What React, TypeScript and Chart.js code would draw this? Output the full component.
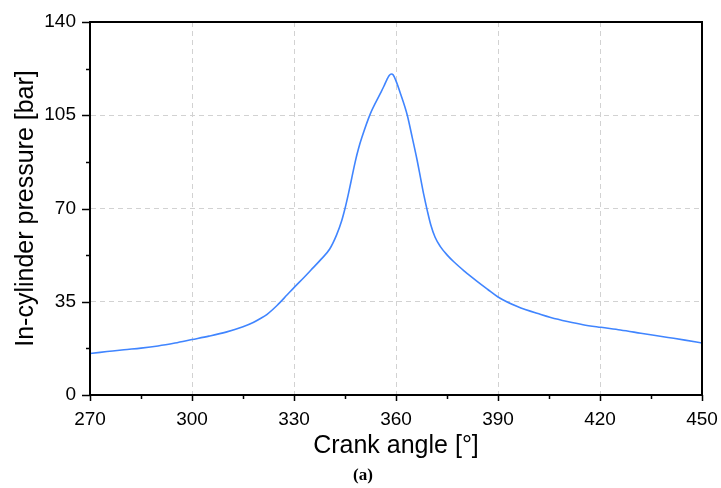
import React, { useEffect, useRef } from "react";
import { Chart, registerables } from "chart.js";

Chart.register(...registerables);

// Crank angle [°] samples and the in-cylinder pressure [bar] at each
const crankAngle = [
  270, 275, 280, 285, 290, 295, 300, 305, 310, 315, 318, 320, 322, 325, 328, 330,
  333, 335, 338, 340.5, 342.5, 344, 345, 346, 347, 348, 349, 350, 352.5, 355.4,
  356.4, 357.3, 358, 358.6, 359.2, 360, 361.3, 363.3, 364.8, 366.2, 367.2, 368.2,
  369.2, 370.2, 371.5, 373, 375, 377, 380, 382, 385, 387, 390, 395.7, 402.6, 405.5,
  410.4, 415, 420.3, 426, 432, 440, 445, 450,
];
const pressure = [
  15.6, 16.3, 17.0, 17.6, 18.4, 19.5, 20.8, 22.1, 23.6, 25.6, 27.2, 28.6, 30.2, 33.6, 37.6, 40.3,
  44.2, 46.9, 51.0, 54.8, 60.0, 65.3, 70.0, 75.5, 81.5, 87.5, 92.6, 96.8, 105.7, 113.2,
  115.8, 118.3, 119.9, 120.5, 120.1, 117.9, 113.2, 105.1, 96.5, 88.2, 81.6, 75.0,
  69.2, 64.0, 59.2, 55.8, 52.6, 50.0, 46.6, 44.5, 41.5, 39.6, 36.8, 33.2, 30.2, 29.1,
  27.6, 26.4, 25.4, 24.4, 23.2, 21.6, 20.6, 19.5,
];

// Axis ranges and tick spacing
const xRange = [270, 450];
const xMajorStep = 30;
const xMinorStep = 15;
const yRange = [0, 140];
const yMajorStep = 35;
const yMinorStep = 17.5;

const xTitle = "Crank angle [°]";
const yTitle = "In-cylinder pressure [bar]";
const caption = "(a)";

const SANS = "'Liberation Sans', Arial, sans-serif";

// Frame, tick marks (major + minor) and the panel caption
const framePlugin = {
  id: "frameTicks",
  afterDraw(chart: any) {
    const { ctx, chartArea } = chart;
    const xs = chart.scales.x;
    const ys = chart.scales.y;
    const { left, right, top, bottom } = chartArea;
    ctx.save();
    ctx.strokeStyle = "#000";
    ctx.lineWidth = 2;
    ctx.setLineDash([]);
    ctx.strokeRect(left, top, right - left, bottom - top);

    ctx.lineWidth = 1.5;
    ctx.beginPath();
    for (let v = xRange[0]; v <= xRange[1] + 1e-6; v += xMinorStep) {
      const px = Math.round(xs.getPixelForValue(v)) + 0.5;
      const major = Math.abs((v - xRange[0]) % xMajorStep) < 1e-6;
      ctx.moveTo(px, bottom);
      ctx.lineTo(px, bottom + (major ? 6 : 4));
    }
    for (let v = yRange[0]; v <= yRange[1] + 1e-6; v += yMinorStep) {
      const py = Math.round(ys.getPixelForValue(v)) + 0.5;
      const major = Math.abs(v % yMajorStep) < 1e-6;
      ctx.moveTo(left, py);
      ctx.lineTo(left - (major ? 8 : 4), py);
    }
    ctx.stroke();

    ctx.fillStyle = "#000";
    ctx.font = "bold 17px 'Liberation Serif', 'DejaVu Serif', serif";
    ctx.textAlign = "center";
    ctx.textBaseline = "middle";
    ctx.fillText(caption, 363, 476);
    ctx.restore();
  },
};

export default function App() {
  const canvasRef = useRef<HTMLCanvasElement | null>(null);

  useEffect(() => {
    document.body.style.margin = "0";
    const canvas = canvasRef.current;
    if (!canvas) return;

    const points = crankAngle.map((a, i) => ({ x: a, y: pressure[i] }));

    const chart = new Chart(canvas, {
      type: "line",
      data: {
        datasets: [
          {
            data: points,
            borderColor: "rgb(64,133,255)",
            borderWidth: 1.6,
            pointRadius: 0,
            fill: false,
            cubicInterpolationMode: "monotone",
          },
        ],
      },
      options: {
        animation: false,
        responsive: false,
        maintainAspectRatio: false,
        layout: { padding: { top: 22, right: 19, left: 0, bottom: 0 } },
        plugins: {
          legend: { display: false },
          tooltip: { enabled: false },
        },
        scales: {
          x: {
            type: "linear",
            min: xRange[0],
            max: xRange[1],
            afterFit: (s: any) => {
              s.height = 93;
              s.paddingLeft = 0;
              s.paddingRight = 0;
            },
            ticks: {
              stepSize: xMajorStep,
              color: "#000",
              padding: 13,
              font: { family: SANS, size: 19 },
              maxRotation: 0,
            },
            grid: {
              drawTicks: false,
              lineWidth: 1,
              color: (c: any) =>
                c.tick && (c.tick.value === xRange[0] || c.tick.value === xRange[1])
                  ? "rgba(0,0,0,0)"
                  : "#d2d2d2",
            },
            border: { display: true, color: "#000", width: 2, dash: [5, 4] },
            title: {
              display: true,
              text: xTitle,
              color: "#000",
              font: { family: SANS, size: 25 },
              padding: { top: 0, bottom: 27 },
            },
          },
          y: {
            type: "linear",
            min: yRange[0],
            max: yRange[1],
            afterFit: (s: any) => {
              s.width = 90;
              s.paddingTop = 0;
              s.paddingBottom = 0;
            },
            ticks: {
              stepSize: yMajorStep,
              color: "#000",
              padding: 14,
              font: { family: SANS, size: 19 },
            },
            grid: {
              drawTicks: false,
              lineWidth: 1,
              color: (c: any) =>
                c.tick && (c.tick.value === yRange[0] || c.tick.value === yRange[1])
                  ? "rgba(0,0,0,0)"
                  : "#d2d2d2",
            },
            border: { display: true, color: "#000", width: 2, dash: [5, 4] },
            title: {
              display: true,
              text: yTitle,
              color: "#000",
              font: { family: SANS, size: 25 },
              padding: { top: 11, bottom: 0 },
            },
          },
        },
      },
      plugins: [framePlugin],
    });

    return () => chart.destroy();
  }, []);

  return (
    <div style={{ width: 721, height: 488, background: "#fff" }}>
      <canvas ref={canvasRef} width={721} height={488} style={{ display: "block" }} />
    </div>
  );
}
